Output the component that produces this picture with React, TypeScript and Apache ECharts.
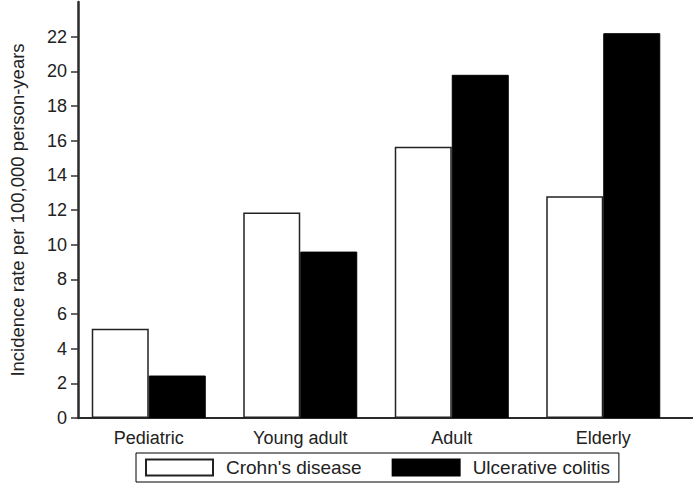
import React, { useEffect, useRef } from "react";
import * as echarts from "echarts";

const categories = ["Pediatric", "Young adult", "Adult", "Elderly"];
const crohnsDisease = [5.15, 11.85, 15.65, 12.8];
const ulcerativeColitis = [2.45, 9.6, 19.8, 22.2];
const yTicks = [0, 2, 4, 6, 8, 10, 12, 14, 16, 18, 20, 22];
const seriesNames = ["Crohn's disease", "Ulcerative colitis"];

const FONT = "Liberation Sans, Arial, sans-serif";

export default function App() {
  const ref = useRef<HTMLDivElement>(null);
  useEffect(() => {
    if (!ref.current) return;
    const chart = echarts.init(ref.current, undefined, { renderer: "svg" });
    chart.setOption({
      animation: false,
      backgroundColor: "#fff",
      textStyle: { fontFamily: FONT },
      grid: [
        { left: 73, right: 14, top: 2, bottom: 72 },
        { left: 62, right: 0, top: 2, bottom: 72 },
      ],
      xAxis: [
        {
          gridIndex: 0,
          type: "category",
          data: categories,
          axisLine: { show: false },
          axisTick: { show: false },
          axisLabel: { fontSize: 18, color: "#222", margin: 11, fontFamily: FONT },
        },
        {
          gridIndex: 1,
          type: "category",
          data: [""],
          axisLine: { show: true, lineStyle: { color: "#2a2a2a", width: 2 } },
          axisTick: { show: false },
          axisLabel: { show: false },
        },
      ],
      yAxis: [
        { gridIndex: 0, type: "value", min: 0, max: 24, show: false },
        {
          gridIndex: 1,
          type: "value",
          min: 0,
          max: 24,
          interval: 2,
          name: "Incidence rate per 100,000 person-years",
          nameLocation: "middle",
          nameGap: 51,
          nameTextStyle: { fontSize: 18.5, color: "#222", fontFamily: FONT },
          axisLine: { show: true, lineStyle: { color: "#2a2a2a", width: 2.5 } },
          axisTick: { show: true, length: 7, customValues: yTicks, lineStyle: { color: "#333", width: 1.5 } },
          axisLabel: { customValues: yTicks, fontSize: 18, color: "#222", margin: 11, fontFamily: FONT },
          splitLine: { show: false },
        },
      ],
      legend: {
        data: seriesNames,
        icon: "rect",
        itemWidth: 67,
        itemHeight: 16,
        itemGap: 30,
        left: 136,
        top: 453,
        padding: [5, 9, 5, 9],
        borderColor: "#000",
        borderWidth: 1,
        textStyle: { fontSize: 19, color: "#222", fontFamily: FONT, padding: [0, 0, 0, 8] },
      },
      series: [
        {
          name: seriesNames[0],
          type: "bar",
          xAxisIndex: 0,
          yAxisIndex: 0,
          data: crohnsDisease,
          barWidth: 57,
          barGap: "0%",
          itemStyle: { color: "#fff", borderColor: "#222", borderWidth: 1.5 },
        },
        {
          name: seriesNames[1],
          type: "bar",
          xAxisIndex: 0,
          yAxisIndex: 0,
          data: ulcerativeColitis,
          barWidth: 57,
          barGap: "0%",
          itemStyle: { color: "#000", borderColor: "#000", borderWidth: 1 },
        },
      ],
    });
    return () => chart.dispose();
  }, []);
  return (
    <div
      ref={ref}
      style={{ position: "fixed", left: 0, top: 0, width: 693, height: 490 }}
    />
  );
}
